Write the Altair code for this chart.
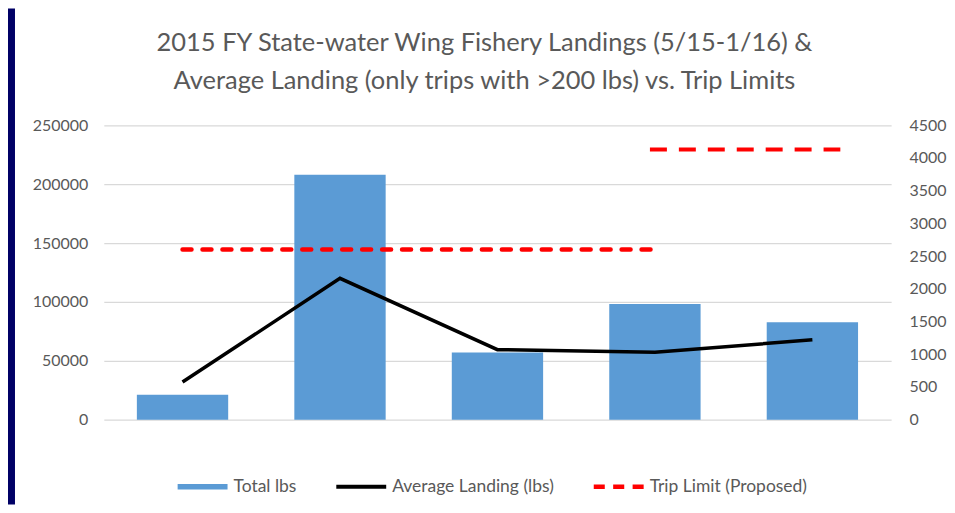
import altair as alt
import pandas as pd

# ---- data ----
categories = ["May", "June", "July", "Aug - Oct.", "Nov-Jan"]
total_lbs = [21200, 208000, 57000, 98300, 82800]
avg_landing = [575, 2160, 1070, 1030, 1220]
trip_limit_cats = ["May", "June", "July", "Aug - Oct."]
trip_limit_values = [2600, 2600, 2600, 2600]
proposed_start = ["Aug - Oct."]
proposed_end = ["Nov-Jan"]
proposed_values = [4130]
series_names = ["Total lbs", "Average Landing (lbs)", "Trip Limit (Proposed)"]
series_colors = ["#5B9BD5", "#000000", "#FF0000"]
left_ticks = [0, 50000, 100000, 150000, 200000, 250000]
right_ticks = [0, 500, 1000, 1500, 2000, 2500, 3000, 3500, 4000, 4500]

# legend glyphs (paths wider than the unit box so they read 50px wide)
legend_shapes = [
    "M-1.667,-0.19H1.667V0.19H-1.667Z",
    "M-1.667,-0.13H1.667V0.13H-1.667Z",
    "M-1.667,-0.15H-0.93V0.15H-1.667Z M-0.37,-0.15H0.37V0.15H-0.37Z M0.93,-0.15H1.667V0.15H0.93Z",
]

TEXT = "#595959"
GRID = "#D9D9D9"
FONT = "Lato"

df_bars = pd.DataFrame({"month": categories, "total": total_lbs})
df_avg = pd.DataFrame({"month": categories, "value": avg_landing})
df_trip = pd.DataFrame({"month": trip_limit_cats, "value": trip_limit_values})
df_prop = pd.DataFrame({"start": proposed_start, "end": proposed_end, "value": proposed_values})
df_leg = pd.DataFrame({"series": series_names, "value": [float("nan")] * 3})

x_scale = alt.Scale(domain=categories, paddingInner=0.42, paddingOuter=0.21)
x_enc = alt.X(
    "month:N",
    scale=x_scale,
    sort=categories,
    axis=alt.Axis(
        title=None, labelAngle=0, ticks=False, domain=False, labelPadding=13,
        labelFontSize=17, labelColor=TEXT, labelFont=FONT,
    ),
)
right_scale = alt.Scale(domain=[0, 4500], nice=False)
right_axis = alt.Axis(
    orient="right", title=None, values=right_ticks, format="d", ticks=False,
    domain=False, grid=False, labelPadding=18,
    labelFontSize=16, labelColor=TEXT, labelFont=FONT,
)
y_right = alt.Y("value:Q", scale=right_scale, axis=right_axis)

# navy frame strip on the left edge of the slide
strip = alt.Chart(pd.DataFrame({"p": [0]})).mark_rect(fill="#000066").encode(
    x=alt.value(-96), x2=alt.value(-89), y=alt.value(-117), y2=alt.value(380)
)

bars = alt.Chart(df_bars).mark_bar(color="#5B9BD5").encode(
    x=x_enc,
    y=alt.Y(
        "total:Q",
        scale=alt.Scale(domain=[0, 250000], nice=False),
        axis=alt.Axis(
            title=None, values=left_ticks, format="d", ticks=False, domain=False,
            labelPadding=16, grid=True, gridColor=GRID, gridWidth=1.3,
            labelFontSize=16, labelColor=TEXT, labelFont=FONT,
        ),
    ),
)

avg_line = alt.Chart(df_avg).mark_line(color="black", strokeWidth=3.5).encode(
    x=x_enc, y=y_right
)

trip_line = alt.Chart(df_trip).mark_line(
    color="#FF0000", strokeWidth=4.5, strokeDash=[9, 11], strokeCap="round"
).encode(x=x_enc, y=y_right)

prop_rule = alt.Chart(df_prop).mark_rule(
    color="#FF0000", strokeWidth=4, strokeDash=[17, 12], xOffset=-5, x2Offset=28
).encode(
    x=alt.X("start:N", scale=x_scale, axis=None),
    x2="end:N",
    y=y_right,
)

legend_def = alt.Legend(
    title=None, orient="none", legendX=84, legendY=347, direction="horizontal",
    symbolSize=900, labelOffset=16, columnPadding=38, labelFontSize=17.5,
    labelColor=TEXT, labelFont=FONT, symbolStrokeWidth=0, labelLimit=400,
    symbolOpacity=1,
)
legend_pts = alt.Chart(df_leg).mark_point(
    filled=True, size=900, strokeWidth=0, opacity=1, invalid="filter"
).encode(
    y=y_right,
    color=alt.Color("series:N", scale=alt.Scale(domain=series_names, range=series_colors), legend=legend_def),
    shape=alt.Shape("series:N", scale=alt.Scale(domain=series_names, range=legend_shapes), legend=legend_def),
)

right_layer = alt.layer(avg_line, trip_line, prop_rule, legend_pts)

chart = alt.layer(strip, bars, right_layer).resolve_scale(y="independent").properties(
    width=789,
    height=295,
    padding={"left": 0, "top": 0, "right": 0, "bottom": 0},
    background="white",
    title=alt.TitleParams(
        text=[
            "2015 FY State-water Wing Fishery Landings (5/15-1/16) &",
            "Average Landing (only trips with >200 lbs) vs. Trip Limits",
        ],
        fontSize=25.5, font=FONT, fontWeight="normal", color=TEXT, lineHeight=38,
        anchor="middle", frame="group", offset=-86, dx=-13,
    ),
).configure_view(stroke=None)

chart.save("out.html", embed_options={"renderer": "svg", "actions": False})
